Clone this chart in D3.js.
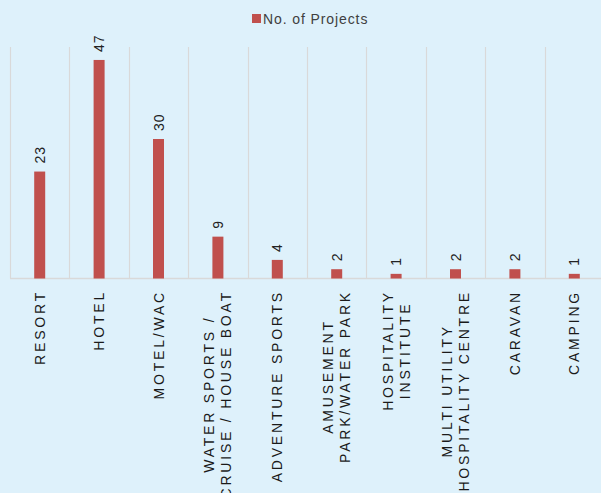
<!DOCTYPE html>
<html>
<head>
<meta charset="utf-8">
<script src="https://cdn.jsdelivr.net/npm/d3@7"></script>
<style>
  html, body { margin: 0; padding: 0; background: #def1fb; }
  svg { display: block; font-family: "Liberation Sans", Arial, sans-serif; }
</style>
</head>
<body>
<svg width="601" height="493"></svg>
<script>
// Categories (each entry = label lines) and values
const categories = [
  ['RESORT'],
  ['HOTEL'],
  ['MOTEL/WAC'],
  ['WATER SPORTS /', 'CRUISE / HOUSE BOAT'],
  ['ADVENTURE SPORTS'],
  ['AMUSEMENT', 'PARK/WATER PARK'],
  ['HOSPITALITY', 'INSTITUTE'],
  ['MULTI UTILITY', 'HOSPITALITY CENTRE'],
  ['CARAVAN'],
  ['CAMPING']
];
const projects = [23, 47, 30, 9, 4, 2, 1, 2, 2, 1];
const seriesName = 'No. of Projects';

const svg = d3.select('svg');
const barColor = '#c0504d';
const gridColor = '#d9d9d9';
const textColor = '#404040';

const margin = { left: 10, right: -3, top: 46, bottom: 214.5 };
const width = 601 - margin.left - margin.right;
const baseY = 493 - margin.bottom;

const data = categories.map((c, i) => ({ key: i, lines: c, value: projects[i] }));

const x = d3.scaleBand()
    .domain(data.map(d => d.key))
    .range([margin.left, margin.left + width]);

const y = d3.scaleLinear()
    .domain([0, 50])
    .range([baseY, margin.top]);

// Vertical category gridlines
const chart = svg.append('g');
chart.selectAll('line.grid').data(data)
  .join('line')
    .attr('class', 'grid')
    .attr('x1', d => Math.round(x(d.key)) + 0.5)
    .attr('x2', d => Math.round(x(d.key)) + 0.5)
    .attr('y1', y(50) + 1)
    .attr('y2', baseY)
    .attr('stroke', gridColor)
    .attr('stroke-width', 1.2);

// Baseline
chart.append('line')
    .attr('x1', margin.left)
    .attr('x2', 601)
    .attr('y1', baseY)
    .attr('y2', baseY)
    .attr('stroke', gridColor)
    .attr('stroke-width', 1.5);

// Bars
const barW = 11;
chart.selectAll('rect.bar').data(data)
  .join('rect')
    .attr('class', 'bar')
    .attr('x', d => x(d.key) + x.bandwidth() / 2 - barW / 2)
    .attr('y', d => y(d.value))
    .attr('width', barW)
    .attr('height', d => baseY - y(d.value))
    .attr('fill', barColor);

// Value labels (rotated)
chart.selectAll('text.val').data(data)
  .join('text')
    .attr('class', 'val')
    .attr('transform', d => `translate(${x(d.key) + x.bandwidth() / 2 + 5},${y(d.value) - 8}) rotate(-90)`)
    .attr('font-size', 14)
    .attr('letter-spacing', 1)
    .attr('fill', '#222')
    .text(d => d.value);

// Category labels (rotated, multi-line, centred block)
const lineH = 17;
const labelTop = baseY + 11.5;
const lab = chart.selectAll('g.cat').data(data)
  .join('g')
    .attr('class', 'cat');

lab.each(function(d) {
  const g = d3.select(this);
  const n = d.lines.length;
  const cx = x(d.key) + x.bandwidth() / 2;
  const texts = g.selectAll('text').data(d.lines)
    .join('text')
      .attr('font-size', 14)
      .attr('letter-spacing', 2.8)
      .attr('fill', '#1a1a1a')
      .attr('text-anchor', 'middle')
      .text(t => t);
  const maxLen = d3.max(texts.nodes(), nd => nd.getComputedTextLength());
  texts.attr('transform', (t, i) => {
    const lx = cx + (i - (n - 1) / 2) * lineH + 5;
    return `translate(${lx},${labelTop + maxLen / 2}) rotate(-90)`;
  });
});

// Legend
const legend = svg.append('g').attr('transform', 'translate(252,14)');
legend.append('rect')
    .attr('width', 9)
    .attr('height', 9)
    .attr('fill', barColor);
legend.append('text')
    .attr('x', 11)
    .attr('y', 9.5)
    .attr('font-size', 14)
    .attr('letter-spacing', 0.9)
    .attr('fill', textColor)
    .text(seriesName);
</script>
</body>
</html>
